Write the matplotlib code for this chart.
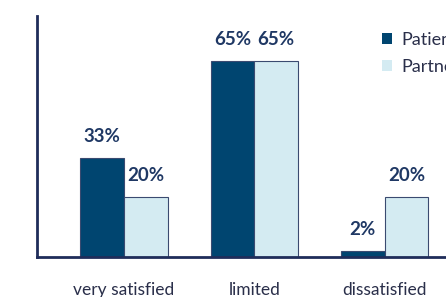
import numpy as np
from matplotlib import pyplot as plt
from matplotlib.patches import Patch

categories = ["very satisfied", "limited", "dissatisfied"]
patients = [33, 65, 2]
partners = [20, 65, 20]
series_names = ["Patients", "Partners"]

plt.rcParams['font.family'] = ['Lato', 'DejaVu Sans']

navy = "#1f2d5a"
c_pat = "#004570"
c_par = "#d4ebf2"

fig = plt.figure(figsize=(4.46, 2.97), dpi=100)
ax = fig.add_axes([37/446, 40/297, 435/446, 241/297])

x = np.arange(len(categories))
w = 0.335
b1 = ax.bar(x - w/2, patients, w, color=c_pat, edgecolor="#3a4a70", linewidth=0.8)
b2 = ax.bar(x + w/2, partners, w, color=c_par, edgecolor="#3a4a70", linewidth=0.8)

for bars, vals in [(b1, patients), (b2, partners)]:
    for r, v in zip(bars, vals):
        ax.annotate("{}%".format(v), (r.get_x() + r.get_width()/2, r.get_height()),
                    xytext=(0, 15.5), textcoords="offset points", ha="center", va="center",
                    fontsize=13.5, fontweight="bold", color="#1f3864")

ax.set_xlim(-0.667, 2.67)
ax.set_ylim(0, 80)
ax.set_xticks(x)
ax.set_xticklabels(categories, fontsize=12.5, color="#2a2f4a")
ax.tick_params(axis="x", length=0, pad=18)
ax.set_yticks([])
for s in ["top", "right"]:
    ax.spines[s].set_visible(False)
for s in ["left", "bottom"]:
    ax.spines[s].set_color(navy)
    ax.spines[s].set_linewidth(2)

handles = [Patch(facecolor=c_pat, edgecolor="none"), Patch(facecolor=c_par, edgecolor="none")]
ax.legend(handles, series_names, loc="upper left", bbox_to_anchor=(373/446, 1 - 23/297),
          bbox_transform=fig.transFigure, frameon=False, fontsize=13, handlelength=0.55,
          handleheight=0.55, handletextpad=0.5, labelspacing=0.6, labelcolor="#2a2f4a", borderpad=0)

plt.savefig("out.png", dpi=100)
